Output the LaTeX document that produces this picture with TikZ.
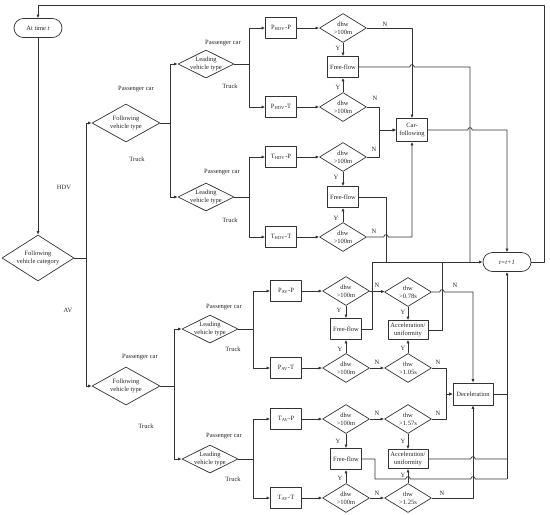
\documentclass[tikz,border=0pt]{standalone}
\usepackage{fontspec}
\setmainfont{Liberation Serif}
\usetikzlibrary{shapes.geometric,arrows.meta}
\tikzset{
  line/.style={draw=black!80, line width=0.7pt},
  arr/.style={line, -{Latex[length=3.6pt,width=3.2pt]}},
  box/.style={draw=black!80, line width=0.7pt, minimum width=31pt, minimum height=21pt, inner sep=1pt, align=center},
  term/.style={draw=black!80, line width=0.7pt, rounded corners=9.5pt, minimum width=48pt, minimum height=19pt, inner sep=1pt},
  dia/.style={draw=black!80, line width=0.7pt, diamond, inner sep=0pt, minimum width=47pt, minimum height=29pt},
  fdia/.style={dia, minimum width=68pt, minimum height=38pt},
  ldia/.style={dia, minimum width=56pt, minimum height=28pt},
  dtxt/.style={align=center, inner sep=0pt},
  dtext/.style={label={[dtxt]center:#1}},
  lab/.style={inner sep=0pt},
}
% small bridge where a line jumps over another
\newcommand\hop[1]{-- ([xshift=-2.2pt]#1) .. controls +(0,-3.2) and +(0,-3.2) .. ([xshift=2.2pt]#1)}
\begin{document}
\begin{tikzpicture}[x=1pt, y=-1pt, font=\fontsize{6.5}{7.8}\selectfont, text=black!85, line join=round]
\useasboundingbox (0,0) rectangle (550,515);
% start and category
\node[term] (start) at (38,28) {At time \textit{t}};
\node[dia, minimum width=72pt, minimum height=46pt, dtext={Following\\vehicle category}] (cat) at (38,258) {};
\node[fdia, dtext={Following\\vehicle type}] (fH) at (126,123) {};
\node[fdia, dtext={Following\\vehicle type}] (fA) at (126,386) {};
\node[ldia, dtext={Leading\\vehicle type}] (lHP) at (206,64) {};
\node[ldia, dtext={Leading\\vehicle type}] (lHT) at (206,197) {};
\node[ldia, dtext={Leading\\vehicle type}] (lAP) at (210,329) {};
\node[ldia, dtext={Leading\\vehicle type}] (lAT) at (210,459) {};
% vehicle pairs
\node[box] (bHPP) at (281,28) {P\textsubscript{HDV}-P};
\node[box] (bHPT) at (281,107) {P\textsubscript{HDV}-T};
\node[box] (bHTP) at (281,157) {T\textsubscript{HDV}-P};
\node[box] (bHTT) at (281,237) {T\textsubscript{HDV}-T};
\node[box] (bAPP) at (286,291) {P\textsubscript{AV}-P};
\node[box] (bAPT) at (286,368) {P\textsubscript{AV}-T};
\node[box] (bATP) at (286,419) {T\textsubscript{AV}-P};
\node[box] (bATT) at (286,498) {T\textsubscript{AV}-T};
% dhw checks
\node[dia, dtext={dhw\\>100m}] (dHPP) at (343,28) {};
\node[dia, dtext={dhw\\>100m}] (dHPT) at (343,107) {};
\node[dia, dtext={dhw\\>100m}] (dHTP) at (343,157) {};
\node[dia, dtext={dhw\\>100m}] (dHTT) at (343,237) {};
\node[dia, dtext={dhw\\>100m}] (dAPP) at (346,291) {};
\node[dia, dtext={dhw\\>100m}] (dAPT) at (346,368) {};
\node[dia, dtext={dhw\\>100m}] (dATP) at (346,419) {};
\node[dia, dtext={dhw\\>100m}] (dATT) at (346,498) {};
\node[box] (ffHP) at (343,67) {Free-flow};
\node[box] (ffHT) at (343,197) {Free-flow};
\node[box] (ffAP) at (346,329) {Free-flow};
\node[box] (ffAT) at (346,459) {Free-flow};
\node[box, minimum height=23pt] (carf) at (412,130) {Car-\\following};
% thw checks
\node[dia, dtext={thw\\>0.78s}] (tAPP) at (408,292) {};
\node[dia, dtext={thw\\>1.05s}] (tAPT) at (408,368) {};
\node[dia, dtext={thw\\>1.57s}] (tATP) at (408,419) {};
\node[dia, dtext={thw\\>1.25s}] (tATT) at (408,498) {};
\node[box, minimum width=40pt, minimum height=19pt] (aAP) at (408,330) {Acceleration/\\uniformity};
\node[box, minimum width=40pt, minimum height=19pt] (aAT) at (408,459) {Acceleration/\\uniformity};
\node[box, minimum width=40pt, minimum height=22pt] (dec) at (473,394) {Deceleration};
\node[term] (tnext) at (507,262) {\textit{t=t+1}};
% branch labels
\foreach \x/\y/\t [count=\i] in {136/89/Passenger car, 137/159/Truck, 64/187/HDV, 68/310/AV,
  140/357/Passenger car, 146/426/Truck, 223/43/Passenger car, 230/86/Truck,
  222/172/Passenger car, 230/220/Truck, 224/307/Passenger car, 233/349/Truck,
  224/436/Passenger car, 233/479/Truck}
  \node[lab] (br\i) at (\x,\y) {\t};
\foreach \x/\y/\t [count=\i] in {338/48/Y, 338/87/Y, 385/24/N, 375/98/N, 336/177/Y, 336/218/Y,
  374/149/N, 374/231/N, 377/285/N, 455/285/N, 339/310/Y, 403/312/Y, 340/349/Y, 403/348/Y,
  377/362/N, 438/362/N, 377/413/N, 438/413/N, 338/441/Y, 403/441/Y, 340/478/Y, 403/475/Y,
  377/493/N, 442/493/N}
  \node[lab] (yn\i) at (\x,\y) {\t};
% loop back and tree
\coordinate (topR) at (544,5);
\draw[arr] (tnext.east) -| (topR) -| (start.north);
\draw[arr] (start) -- (cat);
\draw[line] (cat.east) -- (86,258) coordinate (jCat);
\draw[arr] (jCat) |- (fH.west);
\draw[arr] (jCat) |- (fA.west);
\draw[line] (fH.east) -- ++(10,0) coordinate (jfH);
\draw[arr] (jfH) |- (lHP.west);
\draw[arr] (jfH) |- (lHT.west);
\draw[line] (fA.east) -- ++(14,0) coordinate (jfA);
\draw[arr] (jfA) |- (lAP.west);
\draw[arr] (jfA) |- (lAT.west);
\foreach \l/\a/\b in {lHP/bHPP/bHPT, lHT/bHTP/bHTT, lAP/bAPP/bAPT, lAT/bATP/bATT}{
  \draw[line] (\l.east) -- ++(14.5,0) coordinate (j\l);
  \draw[arr] (j\l) |- (\a.west);
  \draw[arr] (j\l) |- (\b.west);
}
\foreach \b/\d in {bHPP/dHPP, bHPT/dHPT, bHTP/dHTP, bHTT/dHTT, bAPP/dAPP, bAPT/dAPT, bATP/dATP, bATT/dATT}
  \draw[arr] (\b) -- (\d);
\foreach \d/\f in {dHPP/ffHP, dHPT/ffHP, dHTP/ffHT, dHTT/ffHT, dAPP/ffAP, dAPT/ffAP, dATP/ffAT, dATT/ffAT}
  \draw[arr] (\d) -- (\f);
% HDV side
\coordinate (vH1) at (470,67);
\coordinate (vH2) at (386,197);
\coordinate (h1) at (ffHP.east -| carf.north);
\coordinate (h2) at (carf.east -| vH1);
\coordinate (h3) at (dHTT.east -| vH2);
\coordinate (jCF) at ([xshift=-16.5pt]carf.west);
\draw[arr] (dHPP.east) -| (carf.north);
\draw[arr] (dHPT.east) -| (jCF) -- (carf.west);
\draw[arr] (dHTP.east) -| (jCF) -- (carf.west);
\draw[arr] (dHTT.east) \hop{h3} -| (carf.south);
\draw[line] (ffHP.east) \hop{h1} -- (vH1) -- (vH1 |- tnext.west);
\draw[line] (ffHT.east) -- (vH2) -- (vH2 |- tnext.west);
\draw[arr] (carf.east) \hop{h2} -| (tnext.north);
% AV side
\coordinate (busL) at (372,262);
\coordinate (vA1) at (442,262);
\draw[arr] (busL) -- (tnext.west);
\draw[line] (ffAP.east) -| (busL);
\draw[line] (aAP.east) -| (vA1);
\foreach \d/\t in {dAPP/tAPP, dAPT/tAPT, dATP/tATP, dATT/tATT}
  \draw[arr] (\d) -- (\t);
\foreach \t/\a in {tAPP/aAP, tAPT/aAP, tATP/aAT, tATT/aAT}
  \draw[arr] (\t) -- (\a);
\coordinate (h4) at (tAPP.east -| vA1);
\coordinate (jDec) at (446,394);
\draw[arr] (tAPP.east) \hop{h4} -| (dec.north);
\draw[arr] (tAPT.east) -| (jDec) -- (dec.west);
\draw[arr] (tATP.east) -| (jDec) -- (dec.west);
\draw[arr] (tATT.east) -| (dec.south);
\coordinate (vB) at (507,479);
\coordinate (jFA) at (375,479);
\coordinate (h5) at (aAT.east -| dec.south);
\coordinate (h6) at (jFA -| aAT.south);
\coordinate (h7) at (jFA -| dec.south);
\draw[arr] (vB) -- (tnext.south);
\draw[line] (dec.east) -- (dec.east -| vB);
\draw[line] (aAT.east) \hop{h5} -- (aAT.east -| vB);
\draw[line] (ffAT.east) -| (jFA) \hop{h6} \hop{h7} -- (vB);
\end{tikzpicture}
\end{document}
